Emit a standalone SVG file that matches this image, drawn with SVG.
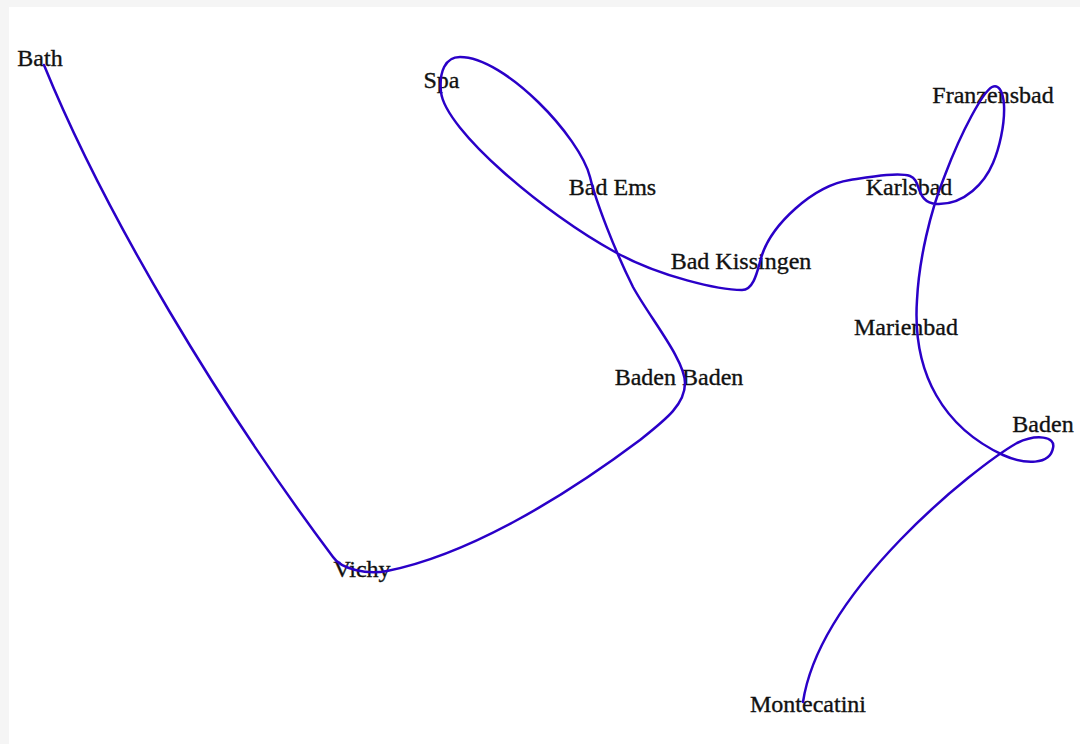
<svg xmlns="http://www.w3.org/2000/svg" width="1080" height="744" viewBox="0 0 1080 744">
<style>
.lbl{font-family:"Liberation Serif","Times New Roman",serif;font-size:24px;fill:#111;stroke:#111;stroke-width:0.35;text-anchor:middle}
.route{fill:none;stroke:#2a00c8;stroke-width:2.5;stroke-linecap:round;stroke-linejoin:round}
</style>
<rect x="0" y="0" width="1080" height="744" fill="#f5f5f5"/>
<rect x="9" y="7" width="1071" height="737" fill="#ffffff"/>
<g id="node-bath"><text class="lbl" x="40" y="66">Bath</text></g>
<g id="node-vichy"><text class="lbl" x="362" y="577">Vichy</text></g>
<g id="node-baden-baden"><text class="lbl" x="679" y="385">Baden Baden</text></g>
<g id="node-bad-ems"><text class="lbl" x="612.5" y="195">Bad Ems</text></g>
<g id="node-spa"><text class="lbl" x="441.5" y="88">Spa</text></g>
<g id="node-bad-kissingen"><text class="lbl" x="741" y="269">Bad Kissingen</text></g>
<g id="node-karlsbad"><text class="lbl" x="909" y="195">Karlsbad</text></g>
<g id="node-franzensbad"><text class="lbl" x="993" y="103">Franzensbad</text></g>
<g id="node-marienbad"><text class="lbl" x="906" y="335">Marienbad</text></g>
<g id="node-baden"><text class="lbl" x="1043" y="432">Baden</text></g>
<g id="node-montecatini"><text class="lbl" x="808" y="712">Montecatini</text></g>
<g id="connectors">
<path class="route" d="M44,65 C105,215 220.5,407 333,557 C341,569 367,575 387,571 C467,555 560,500 640,440 C665,420 685,405 685,383 C685,360 650,318 633,287 C615,251 596,202 590,177 C580,137 505,57 460,57 C445,57 439,72 441,92 C445,130 545,214 615,252 C660,277 720,290 742,290 C755,290 758,267 762,255 C772,225 812,186 850,180 C870,177 898,172 910,176 C922,180 915,203 937,204 C965,205 985,182 993,163 C999,149 1005,125 1004,105 C1003,90 998,84 992,87 C983,92 962,130 945,175 C930,212 919,260 917,300 C912,375 945,428 1003,455 C1025,465 1050,465 1053,448 C1056,436 1036,434 1017,443 C975,467 820,590 803,702"/>
</g>
</svg>
